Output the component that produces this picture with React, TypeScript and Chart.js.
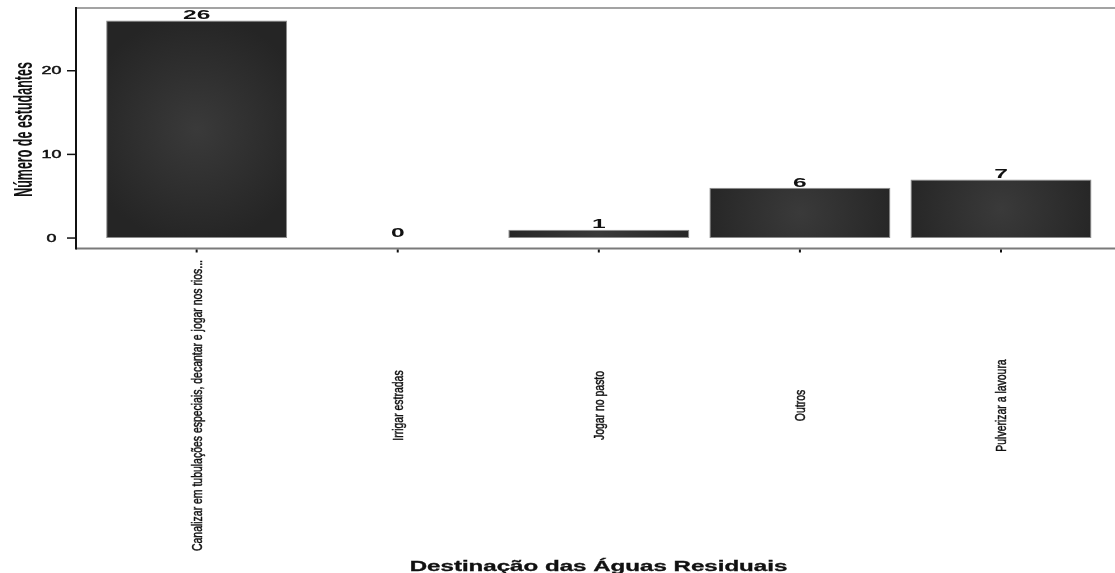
import React, { useEffect, useRef } from 'react';
import { Chart, registerables } from 'chart.js';

Chart.register(...registerables);

const categories = [
  'Canalizar em tubulações especiais, decantar e jogar nos rios...',
  'Irrigar estradas',
  'Jogar no pasto',
  'Outros',
  'Pulverizar a lavoura',
];
const counts = [26, 0, 1, 6, 7];
const yTicks = [0, 10, 20];
const yTitle = 'Número de estudantes';
const xTitle = 'Destinação das Águas Residuais';

const FAM = '"Liberation Sans", Arial, Helvetica, sans-serif';

function drawH(ctx: CanvasRenderingContext2D, text: string, font: string, cx: number, baseline: number, sx: number, sy: number, stroke = 0) {
  ctx.save();
  ctx.font = font;
  ctx.translate(cx, baseline);
  ctx.scale(sx, sy);
  ctx.textAlign = 'center';
  ctx.textBaseline = 'alphabetic';
  ctx.fillText(text, 0, 0);
  if (stroke > 0) {
    ctx.lineWidth = stroke;
    ctx.strokeStyle = ctx.fillStyle as string;
    ctx.strokeText(text, 0, 0);
  }
  ctx.restore();
}

function drawV(ctx: CanvasRenderingContext2D, text: string, font: string, baseX: number, cy: number, lenScale: number, thickScale: number, stroke = 0) {
  ctx.save();
  ctx.font = font;
  ctx.translate(baseX, cy);
  ctx.rotate(-Math.PI / 2);
  ctx.scale(lenScale, thickScale);
  ctx.textAlign = 'center';
  ctx.textBaseline = 'alphabetic';
  ctx.fillText(text, 0, 0);
  if (stroke > 0) {
    ctx.lineWidth = stroke;
    ctx.strokeStyle = ctx.fillStyle as string;
    ctx.strokeText(text, 0, 0);
  }
  ctx.restore();
}

const decorPlugin = {
  id: 'decor',
  afterDatasetsDraw(chart: any) {
    const ctx: CanvasRenderingContext2D = chart.ctx;
    const xs = chart.scales.x;
    const ys = chart.scales.y;
    const area = chart.chartArea;
    const W = chart.width;
    ctx.save();
    ctx.fillStyle = '#111111';

    // value labels
    counts.forEach((v, i) => {
      const px = xs.getPixelForValue(i);
      const py = ys.getPixelForValue(v);
      drawH(ctx, String(v), 'bold 12px ' + FAM, px, py - 1.2, 2.05, 1.08);
    });

    // top border
    ctx.strokeStyle = '#a3a3a3';
    ctx.lineWidth = 2;
    ctx.beginPath();
    ctx.moveTo(area.left, area.top);
    ctx.lineTo(W, area.top);
    ctx.stroke();

    // bottom axis
    ctx.strokeStyle = '#7a7a7a';
    ctx.lineWidth = 2;
    ctx.beginPath();
    ctx.moveTo(area.left, area.bottom);
    ctx.lineTo(W, area.bottom);
    ctx.stroke();

    // left axis
    ctx.strokeStyle = '#111';
    ctx.lineWidth = 2;
    ctx.beginPath();
    ctx.moveTo(area.left, area.top - 1);
    ctx.lineTo(area.left, area.bottom + 1);
    ctx.stroke();

    // y ticks
    ctx.lineWidth = 1.5;
    yTicks.forEach((t) => {
      const py = ys.getPixelForValue(t);
      ctx.strokeStyle = '#111';
      ctx.lineWidth = 1.5;
      ctx.beginPath();
      ctx.moveTo(area.left - 9, py);
      ctx.lineTo(area.left, py);
      ctx.stroke();
      drawH(ctx, String(t), '10.5px ' + FAM, 51.5, py + 3.6, 1.7, 0.97, 0.45);
    });

    // x ticks and labels
    ctx.font = '12px ' + FAM;
    const longest = categories.reduce((a, b) => (ctx.measureText(b).width > ctx.measureText(a).width ? b : a));
    const lenScale = 291 / ctx.measureText(longest).width;
    const thickScale = 10 / (0.716 * 12);
    categories.forEach((c, i) => {
      const px = xs.getPixelForValue(i);
      ctx.strokeStyle = '#111';
      ctx.lineWidth = 2;
      ctx.beginPath();
      ctx.moveTo(px, area.bottom + 1);
      ctx.lineTo(px, area.bottom + 4);
      ctx.stroke();
      drawV(ctx, c, '12px ' + FAM, px + 4.9, 405.5, lenScale, thickScale, 0.4);
    });

    // y title
    ctx.font = 'bold 12px ' + FAM;
    const m = ctx.measureText(yTitle);
    const inkLen = m.actualBoundingBoxLeft + m.actualBoundingBoxRight;
    const asc = m.actualBoundingBoxAscent;
    drawV(ctx, yTitle, 'bold 12px ' + FAM, 32, 129.5, 135 / inkLen, 19 / asc);

    // x title
    ctx.font = 'bold 14px ' + FAM;
    const mx = ctx.measureText(xTitle);
    const inkW = mx.actualBoundingBoxLeft + mx.actualBoundingBoxRight;
    drawH(ctx, xTitle, 'bold 14px ' + FAM, 598.5, 570.7, 378 / inkW, 1.0, 0.3);

    ctx.restore();
  },
};

export default function App() {
  const canvasRef = useRef<HTMLCanvasElement | null>(null);

  useEffect(() => {
    if (!canvasRef.current) return;
    const chart = new Chart(canvasRef.current, {
      type: 'bar',
      data: {
        datasets: [
          {
            data: counts.map((v, i) => ({ x: i, y: v })),
            categoryPercentage: 1,
            barPercentage: 0.9,
            borderSkipped: false,
            borderColor: '#8c8c8c',
            borderWidth: (c: any) => (counts[c.dataIndex] === 0 ? 0 : 1),
            backgroundColor: (c: any) => {
              const chart = c.chart;
              const xs = chart.scales && chart.scales.x;
              const ys = chart.scales && chart.scales.y;
              if (c.type !== 'data' || !xs || !ys || !chart.chartArea) return '#2e2e2e';
              const v = counts[c.dataIndex];
              const cx = xs.getPixelForValue(c.dataIndex);
              const y0 = ys.getPixelForValue(0);
              const y1 = ys.getPixelForValue(v);
              const cy = (y0 + y1) / 2;
              const r = Math.max(95, Math.abs(y0 - y1) / 2) * 1.05;
              if (!isFinite(cx) || !isFinite(cy)) return '#2e2e2e';
              const g = chart.ctx.createRadialGradient(cx, cy, 0, cx, cy, r);
              g.addColorStop(0, '#3a3a3a');
              g.addColorStop(1, '#252525');
              return g;
            },
          } as any,
        ],
      },
      options: {
        animation: false,
        responsive: true,
        maintainAspectRatio: false,
        layout: { padding: { left: 76, top: 8, right: 0, bottom: 573 - 248.5 } },
        scales: {
          x: {
            type: 'linear',
            display: false,
            offset: false,
            grid: { offset: false },
            min: -0.6,
            max: 4.567,
            afterBuildTicks: (scale: any) => {
              scale.ticks = categories.map((_, i) => ({ value: i }));
            },
          },
          y: { type: 'linear', display: false, min: -1.25, max: 27.5 },
        },
        plugins: { legend: { display: false }, tooltip: { enabled: false } },
      },
      plugins: [decorPlugin],
    } as any);
    return () => chart.destroy();
  }, []);

  return (
    <div style={{ position: 'fixed', left: 0, top: 0, width: 1115, height: 573, background: '#fff' }}>
      <canvas ref={canvasRef} />
    </div>
  );
}
